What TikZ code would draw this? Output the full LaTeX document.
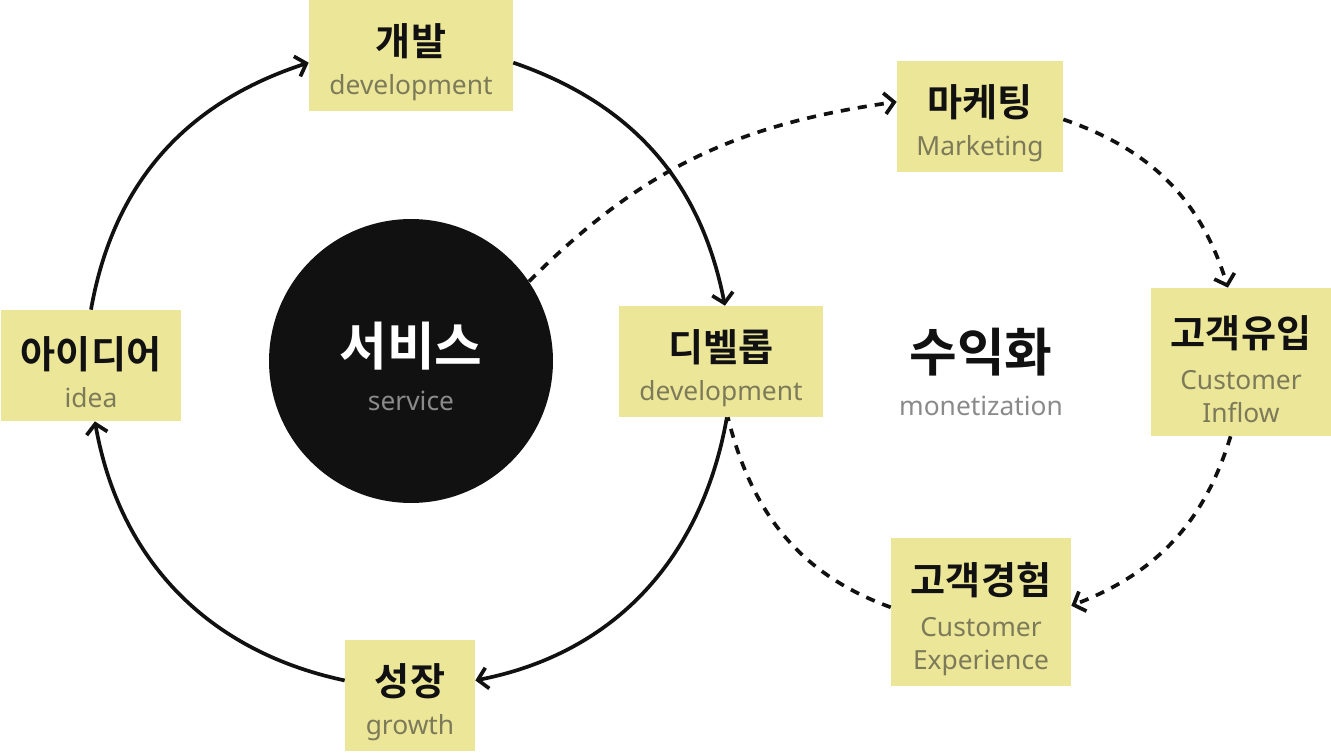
\documentclass[tikz,border=0pt]{standalone}
\usepackage{fontspec}
\setmainfont{Noto Sans}
\newfontfamily\krfont{Noto Sans CJK KR}[BoldFont={Noto Sans CJK KR Bold}]
\usetikzlibrary{arrows.meta}
\definecolor{cardfill}{HTML}{ECE699}
\definecolor{cardsub}{HTML}{7C7A58}
\definecolor{inkblack}{HTML}{111111}
\definecolor{softgray}{HTML}{8A8A8A}
\newcommand\cardtitle[1]{{\krfont\bfseries\fontsize{21.7}{25}\selectfont
  \color{inkblack}\rule{0pt}{26pt}#1}}
\newcommand\bigtitle[2]{{\krfont\bfseries\fontsize{29.5}{34}\selectfont\color{#1}#2}}
\begin{document}
\begin{tikzpicture}[
    x=0.02cm, y=0.02cm,
    font=\fontsize{15}{18.9}\selectfont,
    card/.style={fill=cardfill, text=cardsub, align=center, inner sep=0pt,
                 minimum height=2.22cm},
    tallcard/.style={card, minimum height=2.96cm},
    loop/.style={draw=inkblack, line width=2.1pt,
                 -{Straight Barb[length=5.5pt,width=12pt]}},
    flow/.style={loop, dash pattern=on 5.2pt off 4.6pt}
  ]
    \useasboundingbox (0,0) rectangle (1331,752);

    %% --- Service loop ---
    \node[circle, fill=inkblack, minimum size=5.68cm, inner sep=0pt,
          align=center, text=softgray] (svc) at (411,391)
      {\rule{0pt}{31pt}\bigtitle{white}{서비스}\\[7pt]service};
    \node[card, minimum width=4.08cm] (dev) at (411,696.5)
      {\cardtitle{개발}\\[3pt]development};
    \node[card, minimum width=4.08cm] (devl) at (721,390.5)
      {\cardtitle{디벨롭}\\[3pt]development};
    \node[card, minimum width=2.6cm] (grow) at (410,56.5)
      {\cardtitle{성장}\\[3pt]growth};
    \node[card, minimum width=3.6cm] (idea) at (91,386.5)
      {\cardtitle{아이디어}\\[3pt]idea};

    %% --- Monetization loop ---
    \node[align=center, text=softgray] (money) at (981,380)
      {\bigtitle{inkblack}{수익화}\\[6pt]monetization};
    \node[card, minimum width=3.32cm] (mkt) at (980,635.5)
      {\cardtitle{마케팅}\\[3pt]Marketing};
    \node[tallcard, minimum width=3.6cm] (inflow) at (1241,390)
      {\cardtitle{고객유입}\\[5pt]Customer\\Inflow};
    \node[tallcard, minimum width=3.6cm] (exp) at (981,140)
      {\cardtitle{고객경험}\\[5pt]Customer\\Experience};

    %% --- Connectors ---
    \draw[loop] (idea.north) to[out=80, in=198] (dev.184);
    \draw[loop] (dev.-4) to[out=-19, in=101] (devl.86);
    \draw[loop] (devl.-84) to[out=-100, in=11] (grow.13);
    \draw[loop] (grow.167) to[out=168, in=280] (idea.-86);

    \draw[flow] (svc.34) to[out=45, in=188] (mkt.170);
    \draw[flow] (mkt.-2) to[out=-19, in=107] (inflow.100);
    \draw[flow] (inflow.-98) to[out=-107, in=21] (exp.4);
    \draw[flow, -] (exp.177) to[out=160, in=284] (devl.-83);
\end{tikzpicture}
\end{document}
